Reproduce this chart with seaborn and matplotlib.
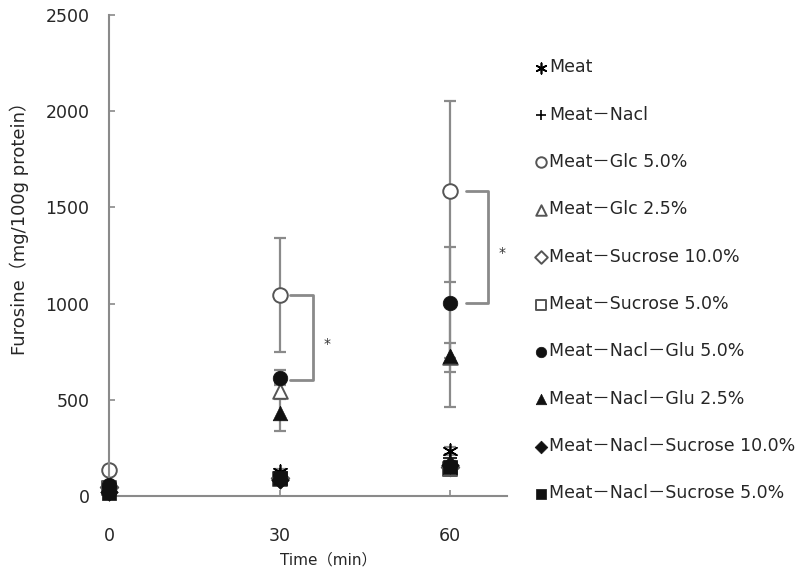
"""
Furosine content vs heating time, ten meat model systems.
"""
import numpy as np
import pandas as pd
import matplotlib
matplotlib.use('Agg')
import matplotlib.pyplot as plt
import seaborn as sns

TIMES = [0, 30, 60]

SERIES = ['Meat', 'Meat－Nacl', 'Meat－Glc 5.0%', 'Meat－Glc 2.5%',
          'Meat－Sucrose 10.0%', 'Meat－Sucrose 5.0%',
          'Meat－Nacl－Glu 5.0%', 'Meat－Nacl－Glu 2.5%',
          'Meat－Nacl－Sucrose 10.0%', 'Meat－Nacl－Sucrose 5.0%']

# mean furosine (mg/100g protein) at 0, 30, 60 min
meat = [30, 125, 235]
meat_nacl = [25, 110, 200]
glc_50 = [135, 1045, 1583]
glc_25 = [60, 545, 720]
suc_100 = [45, 95, 150]
suc_50 = [40, 90, 140]
nacl_glu_50 = [55, 615, 1005]
nacl_glu_25 = [45, 430, 730]
nacl_suc_100 = [20, 85, 160]
nacl_suc_50 = [15, 95, 150]

# standard deviations
meat_sd = [10, 15, 20]
meat_nacl_sd = [8, 15, 20]
glc_50_sd = [20, 295, 470]
glc_25_sd = [15, 40, 77]
suc_100_sd = [8, 15, 20]
suc_50_sd = [8, 15, 20]
nacl_glu_50_sd = [15, 40, 290]
nacl_glu_25_sd = [10, 90, 265]
nacl_suc_100_sd = [8, 15, 20]
nacl_suc_50_sd = [8, 15, 20]

MEANS = [meat, meat_nacl, glc_50, glc_25, suc_100, suc_50,
         nacl_glu_50, nacl_glu_25, nacl_suc_100, nacl_suc_50]
SDS = [meat_sd, meat_nacl_sd, glc_50_sd, glc_25_sd, suc_100_sd, suc_50_sd,
       nacl_glu_50_sd, nacl_glu_25_sd, nacl_suc_100_sd, nacl_suc_50_sd]

# marker, filled?
STYLES = [((6, 2, 0), None), ('+', None), ('o', False), ('^', False),
          ('D', False), ('s', False), ('o', True), ('^', True),
          ('D', True), ('s', True)]

rows = []
for name, m, s in zip(SERIES, MEANS, SDS):
    for t, v, e in zip(TIMES, m, s):
        rows.append({'series': name, 'time': t, 'furosine': v, 'sd': e})
df = pd.DataFrame(rows)

sns.set_style('ticks')
plt.rcParams['font.family'] = ['DejaVu Sans', 'Noto Sans CJK JP']
MIXED = ['DejaVu Sans', 'Noto Sans CJK JP']
GREY = '#8a8a8a'

fig = plt.figure(figsize=(7.98, 5.71), dpi=100)
ax = fig.add_axes([0.1366, 0.1313, 0.4988, 0.8424])

# error bars first (drawn underneath the markers)
for name in SERIES:
    sub = df[df['series'] == name]
    ax.errorbar(sub['time'], sub['furosine'], yerr=sub['sd'], fmt='none',
                ecolor=GREY, elinewidth=1.6, capsize=4, capthick=1.6,
                zorder=1, clip_on=False)

for name, (mk, filled) in zip(SERIES, STYLES):
    sub = df[df['series'] == name]
    size = 80 if mk == 'D' else 110
    if filled is None:
        sns.scatterplot(data=sub, x='time', y='furosine', ax=ax, marker=mk,
                        s=110, color='black', linewidth=1.2, label=name,
                        zorder=3, clip_on=False)
    elif filled:
        sns.scatterplot(data=sub, x='time', y='furosine', ax=ax, marker=mk,
                        s=size, color='#111111', edgecolor='#111111',
                        linewidth=0.5, label=name, zorder=3, clip_on=False)
    else:
        sns.scatterplot(data=sub, x='time', y='furosine', ax=ax, marker=mk,
                        s=size, facecolor='white', edgecolor='#555555',
                        linewidth=1.4, label=name, zorder=2, clip_on=False)

handles, labels = ax.get_legend_handles_labels()
ax.get_legend().remove()

# significance brackets
for x0, x1, ytop, ybot, xs, ys in [(31.9, 35.9, 1045, 605, 38.4, 790),
                                   (62.7, 66.7, 1583, 1005, 69.2, 1265)]:
    ax.plot([x0, x1, x1, x0], [ytop, ytop, ybot, ybot], color=GREY, lw=2,
            clip_on=False, zorder=1)
    ax.text(xs, ys, '*', ha='center', va='center', fontsize=10,
            color='#333333', clip_on=False)

ax.set_xlim(0, 70)
ax.set_ylim(0, 2500)
ax.set_xticks([0, 30, 60])
ax.set_yticks([0, 500, 1000, 1500, 2000, 2500])
ax.tick_params(axis='both', direction='in', length=4, width=1.2,
               color=GREY, labelsize=12.5)
ax.tick_params(axis='x', pad=22)
ax.tick_params(axis='y', pad=14)
sns.despine(ax=ax)
for sp in ('left', 'bottom'):
    ax.spines[sp].set_color(GREY)
    ax.spines[sp].set_linewidth(1.5)

ax.set_xlabel('Time（min）', fontsize=11, family=MIXED)
ax.set_ylabel('Furosine（mg/100g protein）', fontsize=13, family=MIXED)
ax.xaxis.set_label_coords(0.55, -0.118)
ax.yaxis.set_label_coords(-0.2, 0.565)

fig.legend(handles, labels, loc='upper left',
           bbox_to_anchor=(0.66, 0.913), frameon=False,
           prop={'family': MIXED, 'size': 12.5},
           labelspacing=1.69, handlelength=0.6, handletextpad=0.2,
           borderpad=0, markerscale=0.72)

fig.savefig('out.png', dpi=100)
